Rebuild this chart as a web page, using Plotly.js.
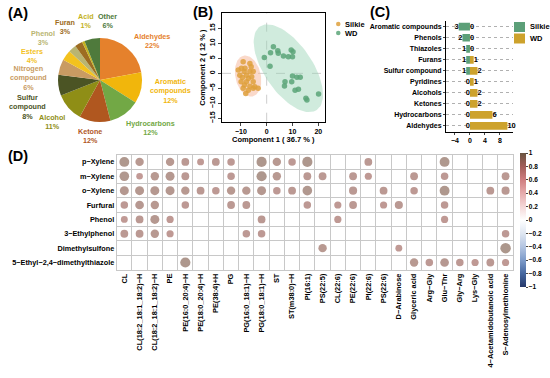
<!DOCTYPE html>
<html><head><meta charset="utf-8">
<script src="https://cdn.plot.ly/plotly-3.0.1.min.js"></script>
<style>html,body{margin:0;padding:0;background:#fff}#chart{width:550px;height:378px}</style>
</head><body><div id="chart"></div>
<script>
// ---------- Panel A : pie ----------
const pieLabels = ['Aldehydes','Aromatic compounds','Hydrocarbons','Ketone','Alcohol','Sulfur compound','Nitrogen compound','Esters','Phenol','Furan','Acid','Other'];
const piePercents = [22,12,12,12,11,8,6,4,3,3,1,6];
const pieColors = ['#e5812c','#f1b60c','#72a845','#b0571f','#8f8e16','#4b5424','#c99b62','#f3c21f','#b9b572','#9d6c22','#c4b21e','#4f7a3c'];

// ---------- Panel B : PLS-DA scores ----------
const groupNames = ['Silkie','WD'];
const silkieX = [-9.1,-6.5,-9.8,-8.4,-6.0,-11.0,-8.7,-6.5,-5.2,-10.4,-7.8,-9.4,-7.1,-5.8,-9.9,-7.8,-5.2,-8.6,-6.5,-4.6,-9.1,-7.1,-5.2,-3.3,-8.1];
const silkieY = [3.9,3.3,1.7,1.7,2.2,1.1,0.6,0.6,0.6,-0.6,-0.6,-1.4,-1.7,-1.1,-2.8,-2.8,-2.8,-3.9,-4.3,-4.5,-5.0,-5.6,-5.0,-5.0,-6.7];
const wdX = [-0.9,1.5,2.6,4.3,4.5,6.5,8.4,9.5,10.0,1.3,7.1,6.9,9.7,10.0,11.7,13.0,11.0,12.3,15.2,15.6,20.1,10.2];
const wdY = [5.3,6.9,8.9,7.5,6.7,5.8,5.5,7.8,5.5,2.4,-2.8,-4.2,-2.8,-0.9,-1.3,-1.3,-5.6,-5.3,-8.3,-8.9,-6.9,7.2];

// ---------- Panel C : compound classes ----------
const classCategories = ['Aromatic compounds','Phenols','Thiazoles','Furans','Sulfur compound','Pyridines','Alcohols','Ketones','Hydrocarbons','Aldehydes'];
const silkieCounts = [3,2,1,1,1,0,0,0,0,0];
const wdCounts = [0,0,0,1,2,1,2,2,6,10];

// ---------- Panel D : correlation ----------
const volatiles = ['p\u2212Xylene','m\u2212Xylene','o\u2212Xylene','Furfural','Phenol','3\u2212Ethylphenol','Dimethylsulfone','5\u2212Ethyl\u22122,4\u2212dimethylthiazole'];
const metabolites = ['CL','CL(18:2_18:1_18:2)\u2212H','CL(18:2_18:1_18:2)\u2212H','PE','PE(16:0_20:4)\u2212H','PE(18:0_20:4)\u2212H','PE(38:4)+H','PG','PG(16:0_18:1)\u2212H','PG(18:0_18:1)\u2212H','ST','ST(m38:0)\u2212H','PI(16:1)','PS(22:5)','CL(22:6)','PE(22:6)','PI(22:6)','PS(22:6)','D\u2212Arabinose','Glyceric acid','Arg\u2212Gly','Glu\u2212Thr','Gly\u2212Arg','Lys\u2212Gly','4\u2212Acetamidobutanoic acid','S\u2212Adenosylmethionine'];
const _ = null;
const corrPXylene  = [0.93,0.88,_,0.88,0.86,0.83,0.86,0.85,_,0.94,0.88,0.85,0.94,_,_,_,0.86,_,_,_,_,0.93,_,_,_,_];
const corrMXylene  = [0.92,0.82,0.88,0.90,0.86,_,_,0.85,_,0.94,0.88,_,0.86,0.86,_,0.86,0.84,_,_,0.86,_,0.85,_,_,_,0.86];
const corrOXylene  = [0.90,0.90,0.90,0.90,0.88,0.86,0.85,0.88,0.88,0.90,0.85,0.86,0.92,_,_,0.87,_,0.86,_,0.85,_,0.93,_,_,0.86,0.87];
const corrFurfural = [0.85,0.89,0.88,_,0.85,_,_,0.86,0.86,_,_,_,0.85,_,0.84,0.86,_,0.84,0.87,_,_,0.85,_,_,_,_];
const corrPhenol   = [0.83,0.86,0.90,0.84,_,_,_,_,_,0.86,_,_,_,_,0.84,_,_,_,_,_,_,0.84,_,_,_,_];
const corrEthylph  = [0.86,0.86,0.88,0.84,_,_,_,_,0.85,0.85,_,_,_,_,_,_,_,_,_,_,_,_,_,_,_,0.85];
const corrDimethyl = [_,_,_,_,_,_,_,_,_,_,_,_,_,0.88,_,_,_,_,0.83,_,_,_,_,_,_,0.95];
const corrThiazole = [_,_,_,_,0.94,_,_,_,_,_,_,_,_,_,_,_,_,_,_,0.88,0.85,0.89,0.85,0.84,0.86,0.84];
const corrRows = [corrPXylene,corrMXylene,corrOXylene,corrFurfural,corrPhenol,corrEthylph,corrDimethyl,corrThiazole];

// ---------- helpers ----------
const W = 550, H = 378;
const px = x => x / W;
const py = y => 1 - y / H;
const FONT = 'Liberation Sans, Arial, sans-serif';
const SILKIE_PT = 'rgba(222,160,60,0.85)', WD_PT = 'rgba(90,165,120,0.85)';
const SILKIE_BAR = '#5c9f78', WD_BAR = '#cda22c';

function ellipse(cx, cy, ax, ay, bx, by) {
  const xs = [], ys = [];
  for (let k = 0; k <= 90; k++) {
    const t = 2 * Math.PI * k / 90;
    xs.push(cx + ax * Math.cos(t) + bx * Math.sin(t));
    ys.push(cy + ay * Math.cos(t) + by * Math.sin(t));
  }
  return {xs, ys};
}

const traces = [];

// Pie
traces.push({
  type: 'pie', labels: pieLabels, values: piePercents, sort: false, direction: 'clockwise', rotation: 0,
  marker: {colors: pieColors, line: {width: 0}}, textinfo: 'none', hoverinfo: 'label+percent',
  domain: {x: [px(58), px(142)], y: [py(122), py(38)]}, showlegend: false
});

// Ellipses B
const eWD = ellipse(8.4, 1.7, 11.0, -13.9, 7.7, 4.5);
const eSK = ellipse(-7.2, -0.9, 1.75, -6.77, 4.8, 0.91);
traces.push({type:'scatter', mode:'lines', x:eWD.xs, y:eWD.ys, fill:'toself', fillcolor:'rgba(150,210,180,0.45)', line:{width:0}, hoverinfo:'skip', showlegend:false, xaxis:'x', yaxis:'y'});
traces.push({type:'scatter', mode:'lines', x:eSK.xs, y:eSK.ys, fill:'toself', fillcolor:'rgba(245,180,150,0.5)', line:{width:0}, hoverinfo:'skip', showlegend:false, xaxis:'x', yaxis:'y'});
traces.push({type:'scatter', mode:'markers', name:groupNames[0], x:silkieX, y:silkieY, marker:{size:5.5, color:SILKIE_PT}, xaxis:'x', yaxis:'y', showlegend:false});
traces.push({type:'scatter', mode:'markers', name:groupNames[1], x:wdX, y:wdY, marker:{size:5.5, color:WD_PT}, xaxis:'x', yaxis:'y', showlegend:false});

// Bars C
traces.push({type:'bar', orientation:'h', name:groupNames[0], y:classCategories, x:silkieCounts.map(v=>-v), marker:{color:SILKIE_BAR}, xaxis:'x2', yaxis:'y2', showlegend:false});
traces.push({type:'bar', orientation:'h', name:groupNames[1], y:classCategories, x:wdCounts, marker:{color:WD_BAR}, xaxis:'x2', yaxis:'y2', showlegend:false});
traces.push({type:'scatter', mode:'text', y:classCategories, x:silkieCounts.map(v=>-v), text:silkieCounts.map(String), textposition:'middle left', textfont:{size:7.5, weight:'bold', color:'#000'}, showlegend:false, hoverinfo:'skip', xaxis:'x2', yaxis:'y2', cliponaxis:false});
traces.push({type:'scatter', mode:'text', y:classCategories, x:wdCounts, text:wdCounts.map(String), textposition:'middle right', textfont:{size:7.5, weight:'bold', color:'#000'}, showlegend:false, hoverinfo:'skip', xaxis:'x2', yaxis:'y2', cliponaxis:false});

// Correlation D
const dX = [], dY = [], dC = [], dS = [];
corrRows.forEach((row, r) => row.forEach((v, c) => {
  if (v !== null) { dX.push(c); dY.push(r); dC.push(v); dS.push(30 * Math.abs(v) - 18); }
}));
const corrScale = [[0,'#27396a'],[0.1,'#46679f'],[0.2,'#7d9bc9'],[0.3,'#b4c5e1'],[0.4,'#dfe6f1'],[0.5,'#ffffff'],[0.6,'#f4d7d7'],[0.7,'#e6abab'],[0.8,'#cf7e80'],[0.9,'#a25d58'],[1,'#6b5540']];
traces.push({
  type:'scatter', mode:'markers', x:dX, y:dY, xaxis:'x3', yaxis:'y3', showlegend:false,
  marker:{size:dS, color:dC, colorscale:corrScale, cmin:-1, cmax:1, opacity:0.62, line:{width:0},
    showscale:true,
    colorbar:{x:px(520), xanchor:'left', y:py(220), yanchor:'middle', len:134, lenmode:'pixels', thickness:6, thicknessmode:'pixels',
      xpad:0, ypad:0, outlinewidth:0, tickvals:[-1,-0.8,-0.6,-0.4,-0.2,0,0.2,0.4,0.6,0.8,1], ticks:'outside', ticklen:2, tickwidth:1,
      tickfont:{size:6.5, family:FONT, weight:'bold'}}}
});

const annotations = [
  {text:'(A)', x:px(6), y:py(13), xanchor:'left', yanchor:'middle'},
  {text:'(B)', x:px(191), y:py(12), xanchor:'left', yanchor:'middle'},
  {text:'(C)', x:px(368), y:py(12), xanchor:'left', yanchor:'middle'},
  {text:'(D)', x:px(6), y:py(156), xanchor:'left', yanchor:'middle'}
].map(a => Object.assign(a, {xref:'paper', yref:'paper', showarrow:false, font:{size:14.5, family:FONT, weight:'bold', color:'#000'}}));

// pie labels (positions in px)
const pieLabelPos = [[152,41],[170,91],[150,128],[90,136],[52,122],[27,107],[28,78],[32,56],[43,38],[65,27],[86,21],[107,21]];
pieLabels.forEach((lab, i) => {
  annotations.push({
    text: lab.replace(' ', '<br>') + '<br>' + piePercents[i] + '%',
    x: px(pieLabelPos[i][0]), y: py(pieLabelPos[i][1]), xref:'paper', yref:'paper', showarrow:false,
    xanchor:'center', yanchor:'middle', align:'center',
    font:{size:7.2, family:FONT, weight:'bold', color:pieColors[i]}
  });
});

// manual legends (B: dots, C: boxes)
const legFont = {size:7.5, family:FONT, weight:'bold', color:'#000'};
const shapes = [
  {type:'line', xref:'x', yref:'y domain', x0:0, x1:0, y0:0, y1:1, line:{color:'#c0c0c0', width:0.8, dash:'dash'}, layer:'below'},
  {type:'line', xref:'x domain', yref:'y', x0:0, x1:1, y0:0, y1:0, line:{color:'#c0c0c0', width:0.8, dash:'dash'}, layer:'below'}
];
const legB = [[SILKIE_PT, 24], [WD_PT, 33]];
legB.forEach((l, i) => {
  shapes.push({type:'circle', xref:'paper', yref:'paper', x0:px(336), x1:px(340.5), y0:py(l[1]+2.25), y1:py(l[1]-2.25), fillcolor:l[0], line:{width:0}});
  annotations.push({text:groupNames[i], x:px(342.5), y:py(l[1]), xref:'paper', yref:'paper', xanchor:'left', yanchor:'middle', showarrow:false, font:legFont});
});
const legC = [[SILKIE_BAR, 27], [WD_BAR, 38.5]];
legC.forEach((l, i) => {
  shapes.push({type:'rect', xref:'paper', yref:'paper', x0:px(514), x1:px(525), y0:py(l[1]+5), y1:py(l[1]-5), fillcolor:l[0], line:{width:0}});
  annotations.push({text:groupNames[i], x:px(528), y:py(l[1]), xref:'paper', yref:'paper', xanchor:'left', yanchor:'middle', showarrow:false, font:legFont});
});

const tickF = {size:7, family:FONT, weight:'bold', color:'#000'};
const layout = {
  width:W, height:H, margin:{l:0,r:0,t:0,b:0}, paper_bgcolor:'#fff', plot_bgcolor:'rgba(0,0,0,0)',
  font:{family:FONT, size:7, color:'#000', weight:'bold'},
  showlegend:false, bargap:0.3, barmode:'relative',
  xaxis:{domain:[px(222),px(324.5)], range:[-17.3,22.4], tickvals:[-10,0,10,20], ticks:'outside', ticklen:3, tickwidth:1,
    showline:true, mirror:true, linecolor:'#000', linewidth:1, zeroline:false, showgrid:false, tickfont:tickF,
    title:{text:'Component 1 ( 36.7 % )', font:{size:7.5, family:FONT, weight:'bold'}, standoff:2}, anchor:'y', fixedrange:true},
  yaxis:{domain:[py(121.7),py(13.3)], range:[-16.1,20], tickvals:[-15,-10,-5,0,5,10,15], tickangle:-90, ticks:'outside', ticklen:3, tickwidth:1,
    showline:true, mirror:true, linecolor:'#000', linewidth:1, zeroline:false, showgrid:false, tickfont:tickF,
    title:{text:'Component 2 ( 12 % )', font:{size:7.5, family:FONT, weight:'bold'}, standoff:2}, anchor:'x', fixedrange:true},
  xaxis2:{domain:[px(446),px(513)], range:[-6.4,11.5], tickvals:[-4,0,4,8], ticks:'outside', ticklen:2, showline:true, linecolor:'#000', linewidth:1,
    zeroline:false, showgrid:false, tickfont:tickF, anchor:'y2'},
  yaxis2:{domain:[py(131.5),py(21.2)], type:'category', autorange:'reversed', ticks:'outside', ticklen:2, showline:true, linecolor:'#000', linewidth:1,
    showgrid:true, gridcolor:'#b0b0b0', griddash:'dot', gridwidth:1, tickfont:tickF, anchor:'x2'},
  xaxis3:{domain:[px(116.7),px(513.2)], range:[-0.5,25.5], tickmode:'array', tickvals:metabolites.map((m,i)=>i), ticktext:metabolites, tickangle:-90,
    ticks:'', showgrid:false, zeroline:false, showline:true, mirror:true, linecolor:'#c8c8c8', linewidth:1, tickfont:{size:7.4, family:FONT, weight:'bold', color:'#000'}, anchor:'y3',
    minor:{tickmode:'array', tickvals:metabolites.slice(1).map((m,i)=>i+0.5), showgrid:true, gridcolor:'#c8c8c8', gridwidth:1, ticks:''}},
  yaxis3:{domain:[py(269.7),py(154.7)], range:[7.5,-0.5], tickmode:'array', tickvals:volatiles.map((v,i)=>i), ticktext:volatiles,
    ticks:'', showgrid:false, zeroline:false, showline:true, mirror:true, linecolor:'#c8c8c8', linewidth:1, tickfont:{size:7.3, family:FONT, weight:'bold', color:'#000'}, anchor:'x3',
    minor:{tickmode:'array', tickvals:volatiles.slice(1).map((v,i)=>i+0.5), showgrid:true, gridcolor:'#c8c8c8', gridwidth:1, ticks:''}},
  shapes: shapes,
  annotations: annotations
};

Plotly.newPlot('chart', traces, layout, {displayModeBar:false, staticPlot:true});
</script>
</body></html>
